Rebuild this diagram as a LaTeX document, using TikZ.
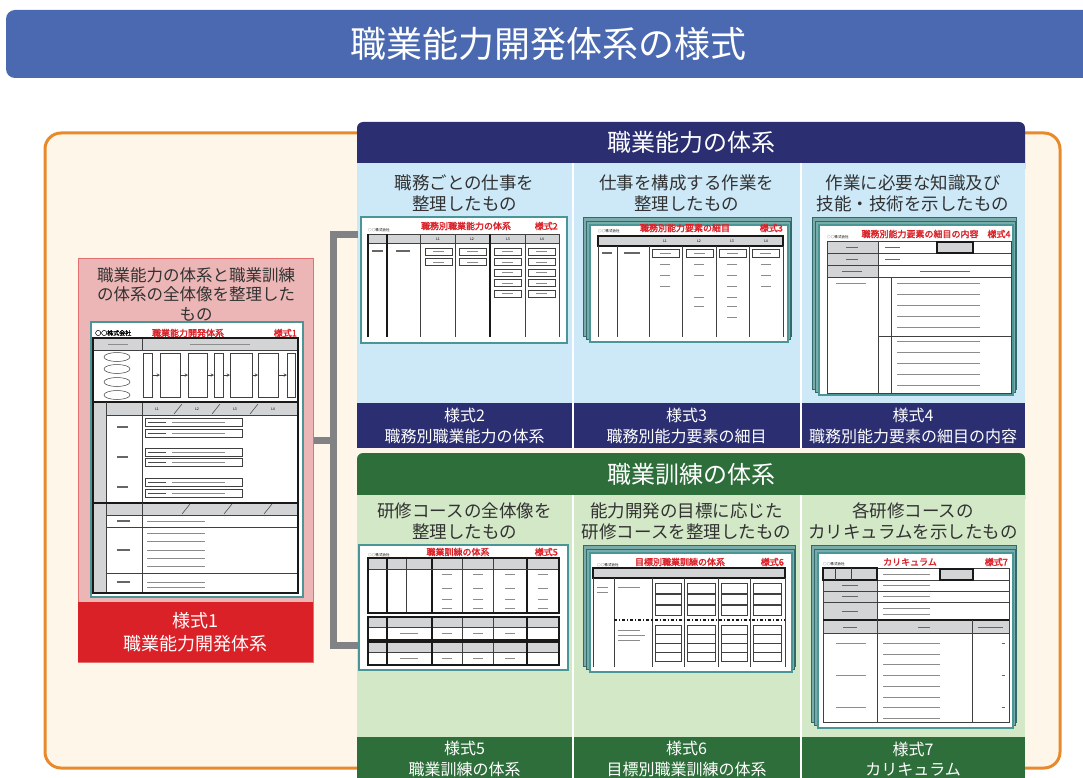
\documentclass[tikz,border=0pt]{standalone}
\usepackage{fontspec}
\setmainfont{Noto Sans CJK JP}
\newfontfamily\formbold{Noto Sans CJK JP}[FakeBold=2]

\definecolor{bannerblue}{RGB}{74,105,176}
\definecolor{frameorange}{RGB}{232,138,43}
\definecolor{cream}{RGB}{254,246,232}
\definecolor{pinkbg}{RGB}{236,182,182}
\definecolor{pinkline}{RGB}{226,112,112}
\definecolor{formred}{RGB}{218,33,40}
\definecolor{navy}{RGB}{43,47,114}
\definecolor{skyblue}{RGB}{205,233,248}
\definecolor{darkgreen}{RGB}{46,110,58}
\definecolor{palegreen}{RGB}{211,232,199}
\definecolor{bracketgray}{RGB}{128,130,134}
\definecolor{sheetteal}{RGB}{74,150,150}
\definecolor{backteal}{RGB}{120,172,170}
\definecolor{cellgray}{RGB}{210,212,214}
\definecolor{textgray}{RGB}{50,50,50}

\tikzset{
  whitetxt/.style={text=white, align=center, inner sep=0pt},
  headtxt/.style={whitetxt, font=\fontsize{24}{26}\selectfont},
  desctxt/.style={text=textgray, align=center, inner sep=0pt, font=\fontsize{17.5}{21}\selectfont},
  bandtxt/.style={whitetxt, font=\fontsize{16}{20.5}\selectfont},
  sheet/.style={draw=sheetteal, fill=white, line width=1.6pt},
  backsheet/.style={draw=sheetteal!70!black, fill=backteal, line width=0.7pt},
  redtitle/.style={text=formred, inner sep=0pt, font=\formbold\fontsize{9}{9}\selectfont},
  tinytxt/.style={inner sep=0pt, font=\fontsize{3.6}{4}\selectfont},
  grid/.style={draw=black!75, line width=0.5pt},
  heavy/.style={draw=black!90, line width=1.1pt},
  cellbox/.style={draw=black!75, line width=0.8pt, fill=white},
  ph/.style={draw=black!45, line width=0.6pt},
  bracket/.style={draw=bracketgray, line width=7pt},
  colsep/.style={draw=white, line width=2pt},
}

% sheet with two sheets behind it (front sheet corners)
\newcommand{\stackedsheet}[4]{%
  \draw[backsheet] (#1-7,#2-8) rectangle (#3+3,#4-6);
  \draw[backsheet] (#1-4,#2-4) rectangle (#3+2,#4-3);
  \draw[sheet] (#1,#2) rectangle (#3,#4);}

\begin{document}
\begin{tikzpicture}[x=1pt,y=-1pt]
\useasboundingbox (0,0) rectangle (1083,778);
\clip (0,0) rectangle (1083,778);

% title and frame
\fill[bannerblue, rounded corners=9pt] (6,10) rectangle (1110,78);
\node[whitetxt, font=\fontsize{36}{38}\selectfont] (maintitle) at (548,44) {職業能力開発体系の様式};
\draw[frameorange, fill=cream, line width=3pt, rounded corners=16pt] (45,133) rectangle (1060,768);

% --- form 1
\node[draw=pinkline, fill=pinkbg, line width=0.8pt, minimum width=235pt, minimum height=404pt,
  anchor=north west, inner sep=0pt] (form1box) at (78,258) {};
\node[text=textgray, align=center, inner sep=0pt, font=\fontsize{16.5}{19.5}\selectfont]
  (form1desc) at (196,294) {職業能力の体系と職業訓練\\の体系の全体像を整理した\\もの};
\draw[sheet] (91,322) rectangle (303,597);
\node[tinytxt, font=\formbold\fontsize{6}{6}\selectfont, anchor=west] (f1co) at (95,333) {○○株式会社};
\node[redtitle] (f1title) at (188,333) {職業能力開発体系};
\node[redtitle, anchor=east] (f1no) at (297,333) {様式1};
\fill[cellgray] (93,338) rectangle (298,350);
\fill[cellgray] (93,402) rectangle (106,593);
\fill[cellgray] (106,403) rectangle (298,415);
\fill[cellgray] (106,503) rectangle (298,515);
\draw[grid] (142,338) -- (142,350) (93,350) -- (298,350);
\draw[ph] (108,344) -- (128,344) (190,344) -- (250,344);
\foreach \y in {357,369,382,395} \draw[grid] (117,\y) ellipse [x radius=13pt, y radius=4.5pt];
\foreach \a/\b in {143/152,160/180,188/207,214/223,230/252,258/278,287/295}
  \draw[grid] (\a,353) rectangle (\b,397);
\foreach \a/\b in {152/160,180/188,207/214,223/230,252/258,278/287}
  \draw[grid, ->, >=stealth] (\a,375) -- (\b,375);
\draw[heavy] (93,402) -- (298,402);
\draw[grid] (106,402) -- (106,593) (106,415) -- (298,415) (142,403) -- (142,503);
\foreach \x/\l in {157/L1,197/L2,235/L3,273/L4} \node[tinytxt] at (\x,409) {\l};
\foreach \x in {178,216,254} \draw[grid] (\x-4,414) -- (\x+4,404);
\foreach \y in {427,457,487} \draw[draw=black!60, line width=1.2pt] (117,\y) -- (128,\y);
\foreach \y in {418,429,448,458,478,489} {
  \draw[cellbox] (145,\y) rectangle (242,\y+8);
  \draw[draw=black!70, line width=1pt] (148,\y+4) -- (166,\y+4);
  \draw[ph] (172,\y+4) -- (225,\y+4);}
\draw[heavy] (93,503) -- (298,503);
\draw[grid] (106,515) -- (298,515) (106,527) -- (298,527) (106,573) -- (298,573) (142,503) -- (142,593);
\foreach \x in {186,228,268} \draw[grid] (\x-4,514) -- (\x+4,504);
\foreach \y in {521,533,541,550,558,566,582,587} \draw[ph] (147,\y) -- (205,\y);
\foreach \y in {521,550,582} \draw[draw=black!60, line width=1.2pt] (117,\y) -- (130,\y);
\draw[heavy] (93,338) rectangle (298,593);
\node[fill=formred, whitetxt, minimum width=235pt, minimum height=60pt, anchor=north west,
  font=\fontsize{18}{23}\selectfont] (form1lbl) at (78,602) {様式1\\職業能力開発体系};

% --- panels
\fill[navy, rounded corners=6pt] (357,122) rectangle (1025,175);
\fill[skyblue] (357,163) rectangle (1025,403);
\fill[navy] (357,403) rectangle (1025,448);
\fill[darkgreen, rounded corners=6pt] (357,453) rectangle (1025,505);
\fill[palegreen] (357,495) rectangle (1025,737);
\fill[darkgreen] (357,737) rectangle (1025,790);
\foreach \x in {572.5,800.5} \draw[colsep] (\x,163) -- (\x,448) (\x,495) -- (\x,790);

\node[headtxt] (abilhead) at (691,142) {職業能力の体系};
\node[desctxt] (abil1) at (464.5,193) {職務ごとの仕事を\\整理したもの};
\node[desctxt] (abil2) at (686.5,193) {仕事を構成する作業を\\整理したもの};
\node[desctxt] (abil3) at (913,193) {作業に必要な知識及び\\技能・技術を示したもの};
\node[bandtxt] (f2lbl) at (464.5,426) {様式2\\職務別職業能力の体系};
\node[bandtxt] (f3lbl) at (686.5,426) {様式3\\職務別能力要素の細目};
\node[bandtxt] (f4lbl) at (913,426) {様式4\\職務別能力要素の細目の内容};

\node[headtxt] (trainhead) at (691,474) {職業訓練の体系};
\node[desctxt] (train1) at (464.5,521) {研修コースの全体像を\\整理したもの};
\node[desctxt] (train2) at (686.5,521) {能力開発の目標に応じた\\研修コースを整理したもの};
\node[desctxt] (train3) at (913,521) {各研修コースの\\カリキュラムを示したもの};
\node[bandtxt] (f5lbl) at (464.5,759) {様式5\\職業訓練の体系};
\node[bandtxt] (f6lbl) at (686.5,759) {様式6\\目標別職業訓練の体系};
\node[bandtxt] (f7lbl) at (913,759) {様式7\\カリキュラム};

% --- form 2
\draw[sheet] (361,217) rectangle (567,343);
\node[tinytxt, anchor=west] (f2co) at (368,230) {○○株式会社};
\node[redtitle] (f2title) at (466,226) {職務別職業能力の体系};
\node[redtitle, anchor=east] (f2no) at (558,226) {様式2};
\fill[cellgray] (368,234) rectangle (559,243);
\draw[grid] (368,234) -- (559,234) (368,243) -- (559,243);
\foreach \x in {420,455,525,559} \draw[grid] (\x,234) -- (\x,337);
\foreach \x in {368,387,490} \draw[heavy] (\x,234) -- (\x,337);
\foreach \x/\l in {438/L1,472/L2,508/L3,542/L4} \node[tinytxt] at (\x,239) {\l};
\draw[draw=black!60, line width=1.2pt] (372,251) -- (383,251) (396,251) -- (410,251);
\foreach \x/\cnt in {425/2,459/2,494/5,528/5}
  \foreach \k in {1,...,\cnt} {
    \draw[cellbox] (\x,237.5+10.5*\k) rectangle (\x+27,244.5+10.5*\k);
    \draw[ph] (\x+8,241+10.5*\k) -- (\x+19,241+10.5*\k);}

% --- form 3
\stackedsheet{590}{225}{788}{342}
\node[tinytxt, anchor=west] (f3co) at (598,231) {○○株式会社};
\node[redtitle] (f3title) at (685,228) {職務別能力要素の細目};
\node[redtitle, anchor=east] (f3no) at (783,228) {様式3};
\fill[cellgray] (598,236) rectangle (783,246);
\draw[heavy] (598,236) rectangle (783,246);
\foreach \x in {598,617,649,682,716,749,783} \draw[grid] (\x,246) -- (\x,337);
\foreach \x/\l in {665/L1,699/L2,732/L3,766/L4} \node[tinytxt] at (\x,241) {\l};
\draw[draw=black!60, line width=1.2pt] (602,253) -- (612,253) (624,253) -- (640,253);
\foreach \x in {652,686,719,752} {
  \draw[cellbox] (\x,249) rectangle (\x+27,257);
  \draw[ph] (\x+8,253) -- (\x+19,253);}
\foreach \x/\y in {665/264,665/275,665/286,699/264,699/275,699/297,699/306,
  732/264,732/275,732/286,732/297,732/306,732/317,766/264,766/275,766/286}
  \draw[ph] (\x-5,\y) -- (\x+5,\y);

% --- form 4
\stackedsheet{819}{225}{1013}{395}
\node[tinytxt, anchor=west] (f4co) at (827,237) {○○株式会社};
\node[redtitle] (f4title) at (936,234) {職務別能力要素の細目の内容\quad 様式4};
\fill[cellgray] (827,241) rectangle (878,277);
\draw[grid] (827,241) rectangle (1011,393);
\foreach \y in {253,265,277} \draw[grid] (827,\y) -- (1011,\y);
\draw[grid] (878,241) -- (878,393) (891,277) -- (891,393) (878,336) -- (1011,336);
\draw[heavy, fill=cellgray] (937,242) rectangle (973,253);
\draw[draw=black!60, line width=1pt] (846,247) -- (858,247) (846,259) -- (858,259) (842,271) -- (862,271)
  (885,247) -- (900,247) (885,259) -- (900,259) (920,271) -- (970,271);
\foreach \y in {283,294,305,316,327,341,352,363,374,385} \draw[ph] (897,\y) -- (980,\y);
\draw[ph] (836,283) -- (866,283);

% --- form 5
\draw[sheet] (359,545) rectangle (568,670);
\node[tinytxt, anchor=west] (f5co) at (368,555) {○○株式会社};
\node[redtitle] (f5title) at (458,552) {職業訓練の体系};
\node[redtitle, anchor=east] (f5no) at (558,552) {様式5};
\fill[cellgray] (368,558) rectangle (559,569);
\foreach \x in {406,462,493} \draw[grid] (\x,558) -- (\x,613);
\foreach \x in {387,432,527} \draw[heavy] (\x,558) -- (\x,613);
\draw[grid] (368,569) -- (559,569);
\draw[heavy] (368,558) rectangle (559,613);
\foreach \y in {574,588,599,608} \draw[ph] (442,\y) -- (452,\y) (473,\y) -- (483,\y) (505,\y) -- (515,\y) (538,\y) -- (548,\y);
\foreach \t in {617,642} {
  \fill[cellgray] (368,\t) rectangle (559,\t+10);
  \draw[grid] (368,\t+10) -- (559,\t+10);
  \foreach \x in {462,493} \draw[grid] (\x,\t) -- (\x,\t+23);
  \foreach \x in {387,432,527} \draw[heavy] (\x,\t) -- (\x,\t+23);
  \draw[heavy] (368,\t) rectangle (559,\t+23);
  \draw[ph] (400,\t+16) -- (418,\t+16) (442,\t+16) -- (452,\t+16) (473,\t+16) -- (483,\t+16) (505,\t+16) -- (515,\t+16);}

% --- form 6
\stackedsheet{590}{553}{792}{672}
\node[tinytxt, anchor=west] (f6co) at (597,565) {○○株式会社};
\node[redtitle] (f6title) at (680,562) {目標別職業訓練の体系};
\node[redtitle, anchor=east] (f6no) at (784,562) {様式6};
\fill[cellgray] (593,568) rectangle (785,578);
\draw[heavy] (593,568) rectangle (785,578);
\foreach \x in {593,614,652,684,718,750,785} \draw[grid] (\x,578) -- (\x,667);
\draw[heavy, dash dot] (614,620) -- (785,620);
\draw[ph] (597,587) -- (608,587) (597,592) -- (608,592) (618,587) -- (640,587)
  (618,630) -- (640,630) (618,635) -- (645,635) (618,640) -- (640,640);
\foreach \x/\w in {655/26,687/28,721/26,753/28} {
  \foreach \y in {583,594,605} \draw[cellbox] (\x,\y) rectangle (\x+\w,\y+10);
  \foreach \y in {625,634,643,652} \draw[cellbox] (\x,\y) rectangle (\x+\w,\y+9);}

% --- form 7
\stackedsheet{818}{553}{1013}{728}
\node[tinytxt, anchor=west] (f7co) at (823,564) {○○株式会社};
\node[redtitle] (f7title) at (910,562) {カリキュラム};
\node[redtitle, anchor=east] (f7no) at (1008,562) {様式7};
\fill[cellgray] (823,568) rectangle (877,620);
\fill[cellgray] (823,620) rectangle (1009,633);
\draw[grid] (823,568) rectangle (1009,722);
\foreach \y in {580,591,602} \draw[grid] (823,\y) -- (1009,\y);
\draw[heavy] (823,620) -- (1009,620);
\draw[grid] (823,633) -- (1009,633) (877,568) -- (877,722) (972,620) -- (972,722);
\draw[heavy] (823,568) rectangle (877,580);
\draw[grid] (835,568) -- (835,580) (851,568) -- (851,580);
\draw[heavy, fill=cellgray] (940,569) rectangle (973,580);
\draw[draw=black!60, line width=1pt] (842,585) -- (858,585) (842,596) -- (858,596) (842,611) -- (858,611)
  (843,627) -- (857,627) (918,627) -- (930,627) (978,627) -- (1003,627);
\foreach \y in {574,585,596,608,614} \draw[ph] (883,\y) -- (930,\y);
\foreach \y in {643,654,664,675,686,697,707,718} \draw[ph] (883,\y) -- (940,\y);
\foreach \y in {643,675,707} {
  \draw[ph] (836,\y) -- (866,\y);
  \draw[draw=black!60, line width=1pt] (1002,\y) -- (1005,\y);}

% bracket from form 1 to the two systems
\coordinate (spine) at (333,440);
\coordinate (brtop) at (358,234);
\coordinate (brbot) at (358,645);
\draw[bracket] (brtop) -| (spine) |- (brbot);
\draw[bracket] (form1box.east |- spine) -- (spine);
\end{tikzpicture}
\end{document}
